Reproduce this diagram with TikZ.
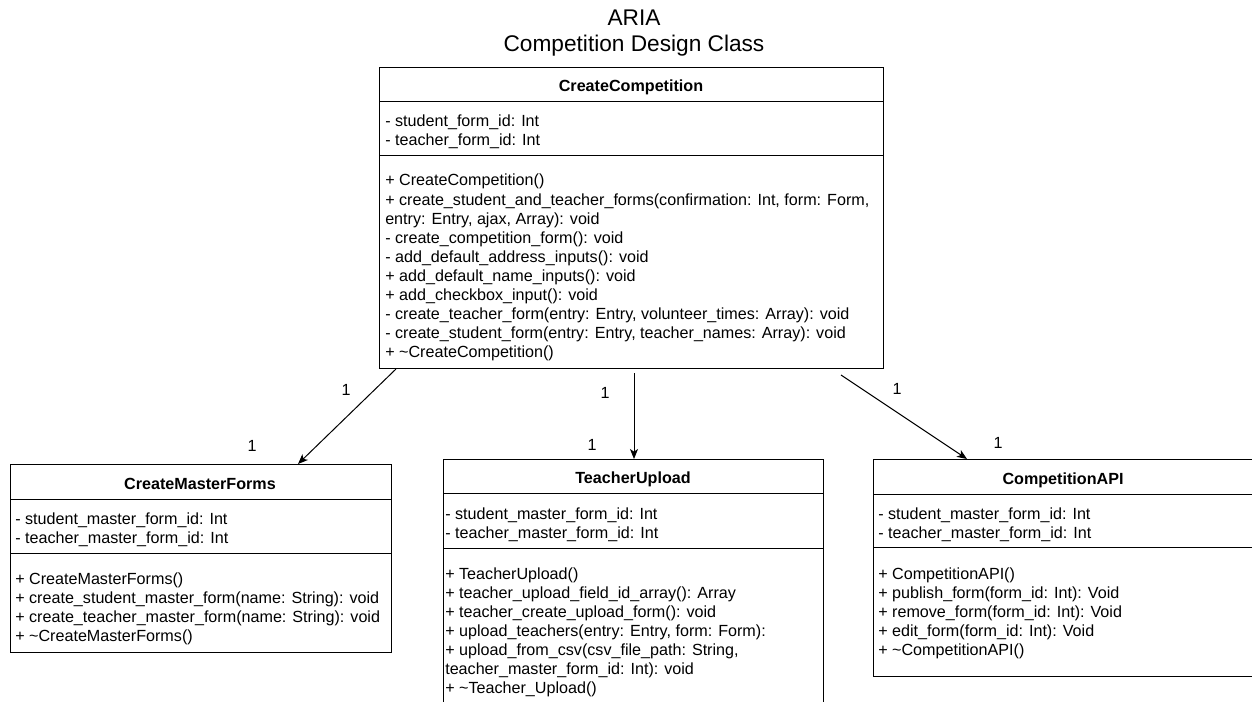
\documentclass[tikz,border=0pt]{standalone}
\usepackage{fontspec}
\setmainfont{Liberation Sans}
\usetikzlibrary{arrows.meta,calc}
\begin{document}
\begin{tikzpicture}[x=0.75pt,y=-0.75pt,
  box/.style={draw=black,line width=0.75pt,inner sep=0pt,anchor=north west},
  txt/.style={anchor=base west,inner sep=0pt,font=\fontsize{12.1}{14.5}\selectfont},
  hdr/.style={anchor=base,inner sep=0pt,font=\fontsize{12.1}{14.5}\selectfont\bfseries},
  mult/.style={inner sep=0pt,font=\fontsize{12.1}{14.5}\selectfont},
  ttl/.style={anchor=base,inner sep=0pt,font=\fontsize{17}{20}\selectfont},
  assoc/.style={-{Stealth[length=7.5pt,width=6pt,inset=2pt]},line width=0.75pt,draw=black},
  sepline/.style={line width=0.75pt,draw=black}]
\useasboundingbox (0,0) rectangle (1252,702);
\clip (0,0) rectangle (1252,702);
\fill[white] (0,0) rectangle (1252,702);

% title
\node[ttl] (t1) at (634,26) {ARIA};
\node[ttl] (t2) at (634,52) {Competition Design Class};

% CreateCompetition
\node[box,minimum width=378pt,minimum height=225.75pt] (cc) at (379,67) {};
\draw[sepline] (cc.north west) ++(0,35) -- ++(504,0);
\draw[sepline] (cc.north west) ++(0,89) -- ++(504,0);
\node[hdr] (cch) at (631,92) {CreateCompetition};
\node[txt] (cca1) at (385,127) {- student\_form\_id: Int};
\node[txt] (cca2) at (385,146) {- teacher\_form\_id: Int};
\foreach \t [count=\i from 0] in {
  {+ CreateCompetition()},
  {+ create\_student\_and\_teacher\_forms(confirmation: Int, form: Form,},
  {entry: Entry, ajax, Array): void},
  {- create\_competition\_form(): void},
  {- add\_default\_address\_inputs(): void},
  {+ add\_default\_name\_inputs(): void},
  {+ add\_checkbox\_input(): void},
  {- create\_teacher\_form(entry: Entry, volunteer\_times: Array): void},
  {- create\_student\_form(entry: Entry, teacher\_names: Array): void},
  {+ \textasciitilde CreateCompetition()}}
  \node[txt] (ccm\i) at (385,186+19.1*\i) {\t};

% CreateMasterForms
\node[box,minimum width=285.75pt,minimum height=141pt] (cmf) at (10,464) {};
\draw[sepline] (cmf.north west) ++(0,35) -- ++(381,0);
\draw[sepline] (cmf.north west) ++(0,89) -- ++(381,0);
\node[hdr] (cmfh) at (200,489) {CreateMasterForms};
\node[txt] (cmfa1) at (15,524) {- student\_master\_form\_id: Int};
\node[txt] (cmfa2) at (15,543) {- teacher\_master\_form\_id: Int};
\foreach \t [count=\i from 0] in {
  {+ CreateMasterForms()},
  {+ create\_student\_master\_form(name: String): void},
  {+ create\_teacher\_master\_form(name: String): void},
  {+ \textasciitilde CreateMasterForms()}}
  \node[txt] (cmfm\i) at (15,584+19.1*\i) {\t};

% TeacherUpload
\node[box,minimum width=285pt,minimum height=195pt] (tu) at (443,459) {};
\draw[sepline] (tu.north west) ++(0,34) -- ++(380,0);
\draw[sepline] (tu.north west) ++(0,89) -- ++(380,0);
\node[hdr] (tuh) at (633,483) {TeacherUpload};
\node[txt] (tua1) at (445,519) {- student\_master\_form\_id: Int};
\node[txt] (tua2) at (445,538) {- teacher\_master\_form\_id: Int};
\foreach \t [count=\i from 0] in {
  {+ TeacherUpload()},
  {+ teacher\_upload\_field\_id\_array(): Array},
  {+ teacher\_create\_upload\_form(): void},
  {+ upload\_teachers(entry: Entry, form: Form):},
  {+ upload\_from\_csv(csv\_file\_path: String,},
  {teacher\_master\_form\_id: Int): void},
  {+ \textasciitilde Teacher\_Upload()}}
  \node[txt] (tum\i) at (445,579+19.1*\i) {\t};

% CompetitionAPI
\node[box,minimum width=286.5pt,minimum height=162.75pt] (capi) at (873,459) {};
\draw[sepline] (capi.north west) ++(0,35) -- ++(382,0);
\draw[sepline] (capi.north west) ++(0,88) -- ++(382,0);
\node[hdr] (capih) at (1063,484) {CompetitionAPI};
\node[txt] (capia1) at (878,519) {- student\_master\_form\_id: Int};
\node[txt] (capia2) at (878,538) {- teacher\_master\_form\_id: Int};
\foreach \t [count=\i from 0] in {
  {+ CompetitionAPI()},
  {+ publish\_form(form\_id: Int): Void},
  {+ remove\_form(form\_id: Int): Void},
  {+ edit\_form(form\_id: Int): Void},
  {+ \textasciitilde CompetitionAPI()}}
  \node[txt] (capim\i) at (878,579+19.1*\i) {\t};

% associations
\draw[assoc] ([shift={(17,0)}]cc.south west) -- ([shift={(288,0)}]cmf.north west);
\draw[assoc] ([shift={(255,4)}]cc.south west) -- ([shift={(191,0)}]tu.north west);
\draw[assoc] ([shift={(462,6)}]cc.south west) -- ([shift={(94,0)}]capi.north west);

% multiplicities
\node[mult] (m1) at (346,390) {1};
\node[mult] (m2) at (252,446) {1};
\node[mult] (m3) at (605,393) {1};
\node[mult] (m4) at (592,445) {1};
\node[mult] (m5) at (897,389) {1};
\node[mult] (m6) at (998,443) {1};
\end{tikzpicture}
\end{document}
